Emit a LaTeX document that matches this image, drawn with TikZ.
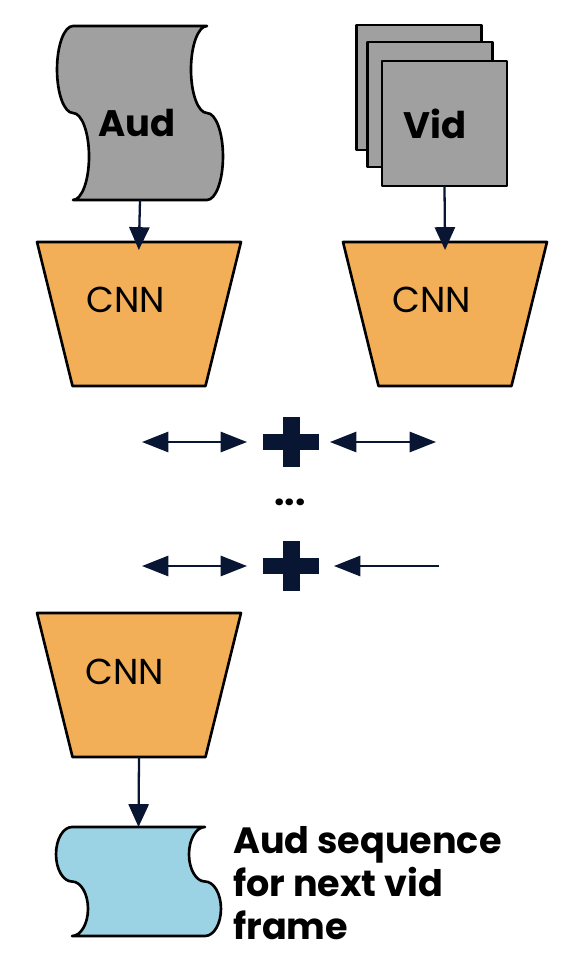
\documentclass[tikz,border=0pt]{standalone}
\usepackage{fontspec}
\setmainfont{Poppins}
\usetikzlibrary{arrows.meta,positioning}

\definecolor{navy}{RGB}{8,22,52}
\definecolor{framegray}{RGB}{160,160,160}
\definecolor{cnnorange}{RGB}{242,175,88}
\definecolor{seqblue}{RGB}{155,211,229}

\tikzset{
  outline/.style={draw=black, line width=1.5pt, line join=round},
  cnnbox/.style={rectangle, minimum width=4.08cm, minimum height=2.88cm,
    inner sep=0pt, outer sep=0pt},
  vidframe/.style={rectangle, outline, fill=framegray, minimum size=2.5cm,
    inner sep=0pt, outer sep=0pt},
  tapebox/.style={rectangle, inner sep=0pt, outer sep=0pt},
  plussign/.style={rectangle, inner sep=0pt, outer sep=0pt,
    minimum width=1.12cm, minimum height=1cm,
    path picture={
      \fill[navy] ([yshift=-0.16cm]path picture bounding box.west)
        rectangle ([yshift=0.16cm]path picture bounding box.east);
      \fill[navy] ([xshift=-0.17cm]path picture bounding box.south)
        rectangle ([xshift=0.17cm]path picture bounding box.north);}},
  flow/.style={draw=navy, line width=1.3pt, -{Triangle[length=13pt, width=11.5pt]}},
  link/.style={draw=navy, line width=1.3pt,
    {Triangle[length=15pt, width=11.5pt]}-{Triangle[length=15pt, width=11.5pt]}},
  linkone/.style={draw=navy, line width=1.3pt, -{Triangle[length=15pt, width=11.5pt]}},
  boldtext/.style={font=\fontsize{21pt}{24pt}\selectfont\bfseries, inner sep=0pt},
  cnntext/.style={font=\fontsize{20.5pt}{22pt}\selectfont, inner sep=0pt}
}

% tape outline round a named box: #1 box, #2 fill, #3 quarter height
\newcommand{\tapeshape}[3]{%
  \filldraw[outline, fill=#2] (#1.north west)
    arc[start angle=90, end angle=270, x radius=0.32cm, y radius=#3]
    arc[start angle=90, end angle=-90, x radius=0.32cm, y radius=#3]
    -- (#1.south east)
    arc[start angle=-90, end angle=90, x radius=0.32cm, y radius=#3]
    arc[start angle=270, end angle=90, x radius=0.32cm, y radius=#3]
    -- cycle;}

% funnel outline round a named box
\newcommand{\funnelshape}[1]{%
  \filldraw[outline, fill=cnnorange] (#1.north west) -- (#1.north east)
    -- ([xshift=-0.71cm]#1.south east) -- ([xshift=0.71cm]#1.south west) -- cycle;}

\begin{document}
\begin{tikzpicture}[x=0.02cm, y=-0.02cm]
    \useasboundingbox (0,0) rectangle (570,960);

    % Audio input
    \node[tapebox, minimum width=2.68cm, minimum height=3.48cm] (aud) at (140,113) {};
    \tapeshape{aud}{framegray}{0.87cm}
    \node[boldtext] (audtxt) at ([xshift=-0.06cm, yshift=-0.2cm]aud.center) {Aud};

    % Video frames
    \node[vidframe] (vidback) at (419,87.5) {};
    \node[vidframe] (vidmid) at (430,104.5) {};
    \node[vidframe] (vid) at (444.5,123.5) {};
    \node[boldtext] (vidtxt) at ([xshift=-0.19cm]vid.center) {Vid};

    % Encoders
    \node[cnnbox] (cnn1) at (139,314) {};
    \node[cnnbox] (cnn2) at (445,314) {};
    \funnelshape{cnn1}
    \funnelshape{cnn2}
    \node[cnntext] (cnn1txt) at ([xshift=-0.26cm, yshift=0.28cm]cnn1.center) {CNN};
    \node[cnntext] (cnn2txt) at ([xshift=-0.26cm, yshift=0.28cm]cnn2.center) {CNN};

    \draw[flow, shorten >=-0.16cm] (aud.south) -- (cnn1.north);
    \draw[flow, shorten >=-0.16cm] (vid.south) -- (cnn2.north);

    % Fusion rows
    \node[plussign] (plus1) at (291,442) {};
    \node[plussign] (plus2) at (291,566) {};
    \coordinate (l1) at (142,442);
    \coordinate (r1) at (436,442);
    \coordinate (l2) at (142,566);
    \coordinate (r2) at (439,566);

    \draw[link, shorten >=0.32cm] (l1) -- (plus1.west);
    \draw[link, shorten <=0.22cm] (plus1.east) -- (r1);
    \draw[link, shorten >=0.32cm] (l2) -- (plus2.west);
    \draw[linkone, shorten >=0.3cm] (r2) -- (plus2.east);

    \node[font=\fontsize{21pt}{21pt}\selectfont\bfseries, inner sep=0pt] (dots) at (290,502) {...};

    % Decoder
    \node[cnnbox] (cnn3) at (139,685) {};
    \funnelshape{cnn3}
    \node[cnntext] (cnn3txt) at ([xshift=-0.28cm, yshift=0.27cm]cnn3.center) {CNN};

    % Output sequence
    \node[tapebox, minimum width=2.66cm, minimum height=2.18cm] (out) at (138.5,881.5) {};
    \tapeshape{out}{seqblue}{0.545cm}
    \node[boldtext, font=\fontsize{20.8pt}{24.5pt}\selectfont\bfseries, align=left,
      anchor=north west] (outtxt) at (233,826) {Aud sequence\\for next vid\\frame};

    \draw[flow] (cnn3.south) -- (out.north);
\end{tikzpicture}
\end{document}
